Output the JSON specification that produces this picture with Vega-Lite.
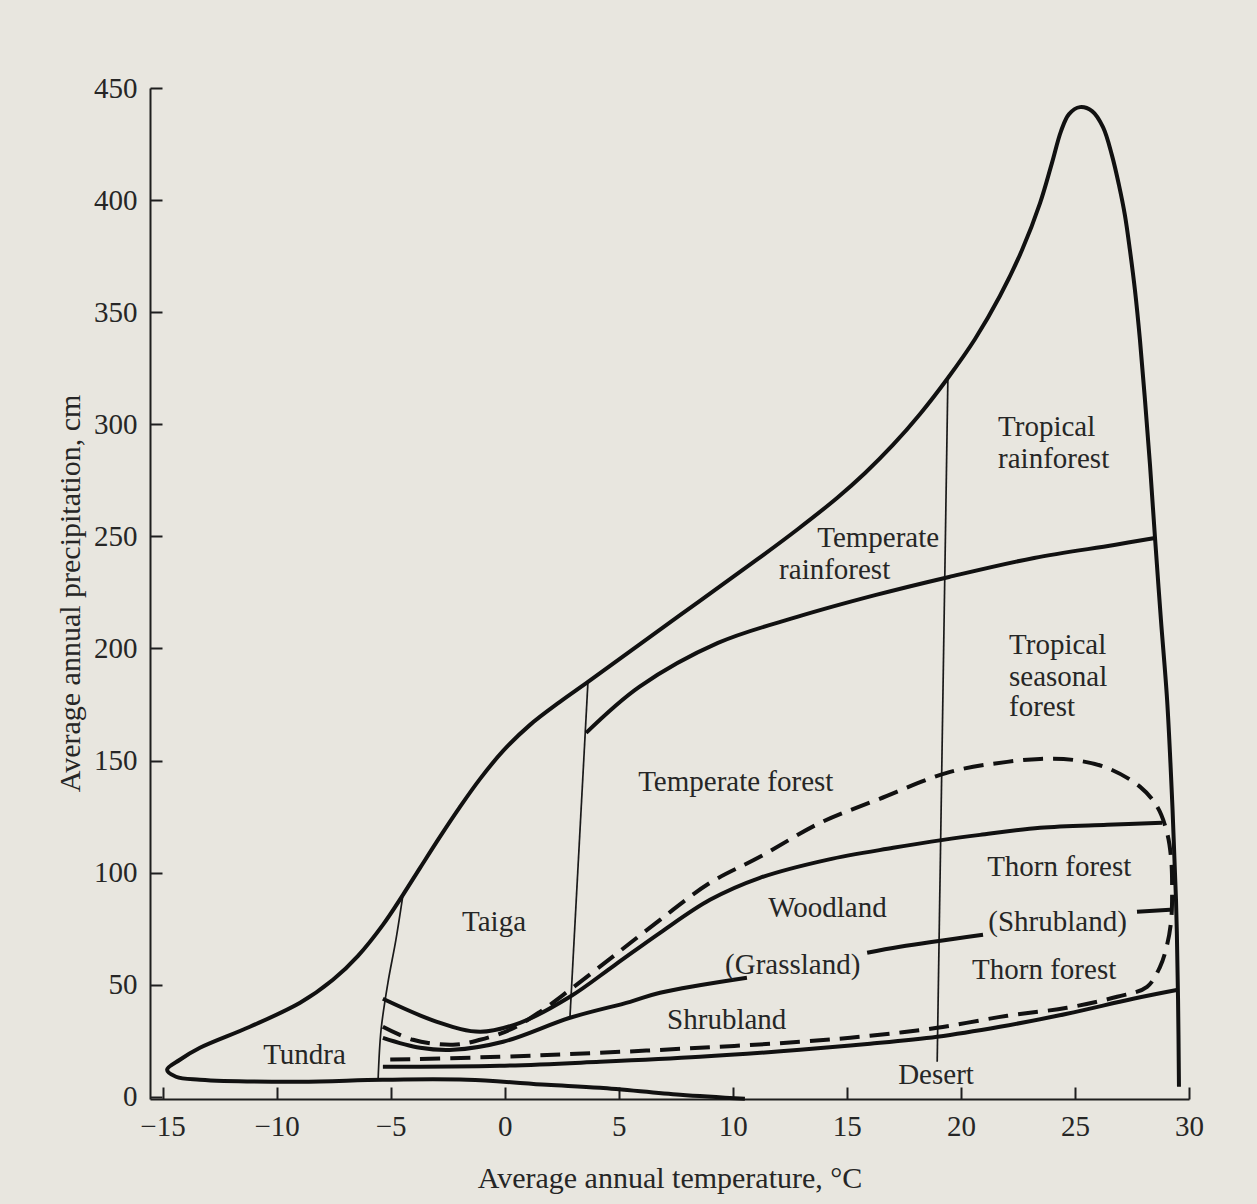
{
  "$schema": "https://vega.github.io/schema/vega-lite/v6.json",
  "width": 1039,
  "height": 1011,
  "autosize": {"type": "none"},
  "padding": {"left": 150, "top": 88, "right": 68, "bottom": 105},
  "background": "#e8e6df",
  "config": {"view": {"stroke": null}, "font": "Liberation Serif"},
  "datasets": {
    "curves": [
      {"id":"outer","k":"thick","i":1,"T":29.56,"P":4.46},
      {"id":"outer","k":"thick","i":2,"T":29.52,"P":43.26},
      {"id":"outer","k":"thick","i":3,"T":29.43,"P":87.85},
      {"id":"outer","k":"thick","i":4,"T":29.26,"P":132.44},
      {"id":"outer","k":"thick","i":5,"T":29.04,"P":177.03},
      {"id":"outer","k":"thick","i":6,"T":28.77,"P":212.71},
      {"id":"outer","k":"thick","i":7,"T":28.51,"P":249.28},
      {"id":"outer","k":"thick","i":8,"T":28.29,"P":281.83},
      {"id":"outer","k":"thick","i":9,"T":28.07,"P":310.81},
      {"id":"outer","k":"thick","i":10,"T":27.85,"P":337.57},
      {"id":"outer","k":"thick","i":11,"T":27.63,"P":359.87},
      {"id":"outer","k":"thick","i":12,"T":27.41,"P":377.7},
      {"id":"outer","k":"thick","i":13,"T":27.19,"P":393.31},
      {"id":"outer","k":"thick","i":14,"T":26.93,"P":406.69},
      {"id":"outer","k":"thick","i":15,"T":26.62,"P":420.07},
      {"id":"outer","k":"thick","i":16,"T":26.23,"P":432.55},
      {"id":"outer","k":"thick","i":17,"T":25.75,"P":439.69},
      {"id":"outer","k":"thick","i":18,"T":25.22,"P":441.47},
      {"id":"outer","k":"thick","i":19,"T":24.74,"P":438.35},
      {"id":"outer","k":"thick","i":20,"T":24.39,"P":430.77},
      {"id":"outer","k":"thick","i":21,"T":23.99,"P":416.5},
      {"id":"outer","k":"thick","i":22,"T":23.47,"P":398.66},
      {"id":"outer","k":"thick","i":23,"T":22.68,"P":377.7},
      {"id":"outer","k":"thick","i":24,"T":21.71,"P":357.19},
      {"id":"outer","k":"thick","i":25,"T":20.62,"P":338.02},
      {"id":"outer","k":"thick","i":26,"T":19.43,"P":320.62},
      {"id":"outer","k":"thick","i":27,"T":18.21,"P":304.57},
      {"id":"outer","k":"thick","i":28,"T":17.02,"P":290.75},
      {"id":"outer","k":"thick","i":29,"T":15.8,"P":278.26},
      {"id":"outer","k":"thick","i":30,"T":14.57,"P":267.11},
      {"id":"outer","k":"thick","i":31,"T":12.86,"P":253.29},
      {"id":"outer","k":"thick","i":32,"T":11.1,"P":239.91},
      {"id":"outer","k":"thick","i":33,"T":7.64,"P":214.49},
      {"id":"outer","k":"thick","i":34,"T":3.65,"P":185.06},
      {"id":"outer","k":"thick","i":35,"T":2.42,"P":176.14},
      {"id":"outer","k":"thick","i":36,"T":1.11,"P":165.89},
      {"id":"outer","k":"thick","i":37,"T":-0.07,"P":154.29},
      {"id":"outer","k":"thick","i":38,"T":-1.08,"P":141.81},
      {"id":"outer","k":"thick","i":39,"T":-1.96,"P":129.32},
      {"id":"outer","k":"thick","i":40,"T":-2.84,"P":115.94},
      {"id":"outer","k":"thick","i":41,"T":-3.71,"P":102.12},
      {"id":"outer","k":"thick","i":42,"T":-4.46,"P":90.08},
      {"id":"outer","k":"thick","i":43,"T":-5.34,"P":76.7},
      {"id":"outer","k":"thick","i":44,"T":-6.43,"P":62.88},
      {"id":"outer","k":"thick","i":45,"T":-7.53,"P":52.17},
      {"id":"outer","k":"thick","i":46,"T":-8.97,"P":41.92},
      {"id":"outer","k":"thick","i":47,"T":-11.17,"P":31.22},
      {"id":"outer","k":"thick","i":48,"T":-13.36,"P":21.85},
      {"id":"outer","k":"thick","i":49,"T":-14.24,"P":16.5},
      {"id":"outer","k":"thick","i":50,"T":-14.8,"P":12.04},
      {"id":"outer","k":"thick","i":51,"T":-14.41,"P":8.92},
      {"id":"outer","k":"thick","i":52,"T":-13.36,"P":7.58},
      {"id":"outer","k":"thick","i":53,"T":-8.97,"P":6.69},
      {"id":"outer","k":"thick","i":54,"T":-5.34,"P":7.58},
      {"id":"outer","k":"thick","i":55,"T":-1.65,"P":7.58},
      {"id":"outer","k":"thick","i":56,"T":1.85,"P":5.35},
      {"id":"outer","k":"thick","i":57,"T":4.18,"P":4.01},
      {"id":"outer","k":"thick","i":58,"T":7.69,"P":0.89},
      {"id":"outer","k":"thick","i":59,"T":10.53,"P":-0.89},

      {"id":"trf","k":"thick","i":1,"T":3.57,"P":162.32},
      {"id":"trf","k":"thick","i":2,"T":5.9,"P":182.83},
      {"id":"trf","k":"thick","i":3,"T":9.35,"P":202.45},
      {"id":"trf","k":"thick","i":4,"T":12.82,"P":214.05},
      {"id":"trf","k":"thick","i":5,"T":16.28,"P":223.86},
      {"id":"trf","k":"thick","i":6,"T":19.48,"P":231.88},
      {"id":"trf","k":"thick","i":7,"T":23.21,"P":240.36},
      {"id":"trf","k":"thick","i":8,"T":26.72,"P":246.15},
      {"id":"trf","k":"thick","i":9,"T":28.51,"P":249.28},

      {"id":"L1","k":"thick","i":1,"T":-5.34,"P":43.7},
      {"id":"L1","k":"thick","i":2,"T":-2.97,"P":33.44},
      {"id":"L1","k":"thick","i":3,"T":-1.08,"P":28.99},
      {"id":"L1","k":"thick","i":4,"T":0.67,"P":33.0},
      {"id":"L1","k":"thick","i":5,"T":2.86,"P":44.59},
      {"id":"L1","k":"thick","i":6,"T":4.84,"P":58.86},
      {"id":"L1","k":"thick","i":7,"T":6.81,"P":73.13},
      {"id":"L1","k":"thick","i":8,"T":9.0,"P":87.85},
      {"id":"L1","k":"thick","i":9,"T":11.19,"P":97.66},
      {"id":"L1","k":"thick","i":10,"T":14.13,"P":105.69},
      {"id":"L1","k":"thick","i":11,"T":17.03,"P":111.04},
      {"id":"L1","k":"thick","i":12,"T":19.22,"P":114.6},
      {"id":"L1","k":"thick","i":13,"T":20.84,"P":116.83},
      {"id":"L1","k":"thick","i":14,"T":23.47,"P":119.96},
      {"id":"L1","k":"thick","i":15,"T":26.41,"P":121.29},
      {"id":"L1","k":"thick","i":16,"T":28.82,"P":122.18},

      {"id":"L3a","k":"thick","i":1,"T":-5.34,"P":26.31},
      {"id":"L3a","k":"thick","i":2,"T":-3.71,"P":21.85},
      {"id":"L3a","k":"thick","i":3,"T":-2.27,"P":20.96},
      {"id":"L3a","k":"thick","i":4,"T":-0.07,"P":24.53},
      {"id":"L3a","k":"thick","i":5,"T":2.86,"P":35.23},
      {"id":"L3a","k":"thick","i":6,"T":5.5,"P":42.36},
      {"id":"L3a","k":"thick","i":7,"T":6.81,"P":46.38},
      {"id":"L3a","k":"thick","i":8,"T":10.62,"P":53.07},
      {"id":"L3b","k":"thick","i":1,"T":15.89,"P":64.21},
      {"id":"L3b","k":"thick","i":2,"T":17.33,"P":66.89},
      {"id":"L3b","k":"thick","i":3,"T":20.97,"P":72.24},
      {"id":"L3c","k":"thick","i":1,"T":27.72,"P":82.5},
      {"id":"L3c","k":"thick","i":2,"T":29.17,"P":83.39},

      {"id":"L4","k":"thick","i":1,"T":-5.34,"P":13.38},
      {"id":"L4","k":"thick","i":2,"T":-0.21,"P":13.82},
      {"id":"L4","k":"thick","i":3,"T":4.18,"P":15.61},
      {"id":"L4","k":"thick","i":4,"T":8.56,"P":17.84},
      {"id":"L4","k":"thick","i":5,"T":12.95,"P":20.96},
      {"id":"L4","k":"thick","i":6,"T":16.02,"P":23.63},
      {"id":"L4","k":"thick","i":7,"T":18.96,"P":26.76},
      {"id":"L4","k":"thick","i":8,"T":21.71,"P":31.22},
      {"id":"L4","k":"thick","i":9,"T":24.65,"P":37.01},
      {"id":"L4","k":"thick","i":10,"T":27.55,"P":43.7},
      {"id":"L4","k":"thick","i":11,"T":29.52,"P":47.71},

      {"id":"dash","k":"dash","i":1,"T":-5.34,"P":31.22},
      {"id":"dash","k":"dash","i":2,"T":-4.02,"P":25.42},
      {"id":"dash","k":"dash","i":3,"T":-2.27,"P":23.19},
      {"id":"dash","k":"dash","i":4,"T":-1.08,"P":25.42},
      {"id":"dash","k":"dash","i":5,"T":0.23,"P":29.88},
      {"id":"dash","k":"dash","i":6,"T":1.55,"P":37.9},
      {"id":"dash","k":"dash","i":7,"T":2.86,"P":47.71},
      {"id":"dash","k":"dash","i":8,"T":4.84,"P":63.32},
      {"id":"dash","k":"dash","i":9,"T":6.81,"P":78.93},
      {"id":"dash","k":"dash","i":10,"T":9.0,"P":95.43},
      {"id":"dash","k":"dash","i":11,"T":11.19,"P":107.02},
      {"id":"dash","k":"dash","i":12,"T":13.83,"P":122.18},
      {"id":"dash","k":"dash","i":13,"T":16.32,"P":132.44},
      {"id":"dash","k":"dash","i":14,"T":19.53,"P":144.93},
      {"id":"dash","k":"dash","i":15,"T":22.03,"P":149.39},
      {"id":"dash","k":"dash","i":16,"T":23.47,"P":150.72},
      {"id":"dash","k":"dash","i":17,"T":24.92,"P":150.28},
      {"id":"dash","k":"dash","i":18,"T":26.41,"P":146.71},
      {"id":"dash","k":"dash","i":19,"T":27.86,"P":138.24},
      {"id":"dash","k":"dash","i":20,"T":28.61,"P":129.32},
      {"id":"dash","k":"dash","i":21,"T":29.04,"P":117.73},
      {"id":"dash","k":"dash","i":22,"T":29.22,"P":105.69},
      {"id":"dash","k":"dash","i":23,"T":29.26,"P":92.31},
      {"id":"dash","k":"dash","i":24,"T":29.22,"P":78.93},
      {"id":"dash","k":"dash","i":25,"T":29.04,"P":67.78},
      {"id":"dash","k":"dash","i":26,"T":28.73,"P":57.97},
      {"id":"dash","k":"dash","i":27,"T":28.16,"P":49.05},
      {"id":"dash","k":"dash","i":28,"T":26.85,"P":44.59},
      {"id":"dash","k":"dash","i":29,"T":24.65,"P":39.69},
      {"id":"dash","k":"dash","i":30,"T":22.03,"P":36.12},
      {"id":"dash","k":"dash","i":31,"T":18.96,"P":30.77},
      {"id":"dash","k":"dash","i":32,"T":16.02,"P":27.2},
      {"id":"dash","k":"dash","i":33,"T":12.95,"P":24.53},
      {"id":"dash","k":"dash","i":34,"T":8.56,"P":21.85},
      {"id":"dash","k":"dash","i":35,"T":4.18,"P":19.62},
      {"id":"dash","k":"dash","i":36,"T":-0.21,"P":17.84},
      {"id":"dash","k":"dash","i":37,"T":-5.34,"P":16.5},

      {"id":"tt","k":"thin","i":1,"T":-4.46,"P":90.08},
      {"id":"tt","k":"thin","i":2,"T":-4.77,"P":70.01},
      {"id":"tt","k":"thin","i":3,"T":-5.12,"P":50.84},
      {"id":"tt","k":"thin","i":4,"T":-5.42,"P":29.88},
      {"id":"tt","k":"thin","i":5,"T":-5.55,"P":7.58},
      {"id":"tf","k":"thin","i":1,"T":3.65,"P":185.06},
      {"id":"tf","k":"thin","i":2,"T":2.86,"P":35.23},
      {"id":"de","k":"thin","i":1,"T":19.43,"P":320.62},
      {"id":"de","k":"thin","i":2,"T":18.96,"P":15.61}
    ],
    "labels": [
      {"label":"Tropical","T":21.63,"P":298.77},
      {"label":"rainforest","T":21.63,"P":284.5},
      {"label":"Temperate","T":13.7,"P":249.28},
      {"label":"rainforest","T":12.03,"P":235.0},
      {"label":"Tropical","T":22.11,"P":201.56},
      {"label":"seasonal","T":22.11,"P":187.29},
      {"label":"forest","T":22.11,"P":173.91},
      {"label":"Temperate forest","T":5.85,"P":140.47},
      {"label":"Thorn forest","T":21.15,"P":102.56},
      {"label":"(Shrubland)","T":21.2,"P":78.04},
      {"label":"Thorn forest","T":20.49,"P":56.63},
      {"label":"Woodland","T":11.55,"P":84.28},
      {"label":"(Grassland)","T":9.66,"P":58.86},
      {"label":"Shrubland","T":7.12,"P":34.34},
      {"label":"Desert","T":17.25,"P":9.81},
      {"label":"Taiga","T":-1.87,"P":78.04},
      {"label":"Tundra","T":-10.59,"P":18.73}
    ]
  },
  "encoding": {
    "x": {
      "field": "T", "type": "quantitative",
      "scale": {"domain": [-15.55, 30], "nice": false, "zero": false},
      "axis": {
        "values": [-15, -10, -5, 0, 5, 10, 15, 20, 25, 30],
        "title": "Average annual temperature, °C",
        "grid": false,
        "domainColor": "#1e1e1e", "domainWidth": 2,
        "tickColor": "#1e1e1e", "tickWidth": 2, "tickSize": -12,
        "labelPadding": 25, "labelFlush": false, "labelOverlap": false,
        "labelFont": "Liberation Serif", "labelFontSize": 29, "labelColor": "#262626",
        "titleFont": "Liberation Serif", "titleFontSize": 30, "titleFontWeight": "normal", "titleColor": "#262626",
        "titleY": 79, "titleBaseline": "middle"
      }
    },
    "y": {
      "field": "P", "type": "quantitative",
      "scale": {"domain": [-1, 450], "nice": false, "zero": false},
      "axis": {
        "values": [0, 50, 100, 150, 200, 250, 300, 350, 400, 450],
        "title": "Average annual precipitation, cm",
        "grid": false,
        "domainColor": "#1e1e1e", "domainWidth": 2,
        "tickColor": "#1e1e1e", "tickWidth": 2, "tickSize": -12,
        "labelPadding": 25, "labelFlush": false, "labelOverlap": false,
        "labelFont": "Liberation Serif", "labelFontSize": 29, "labelColor": "#262626",
        "titleFont": "Liberation Serif", "titleFontSize": 30, "titleFontWeight": "normal", "titleColor": "#262626",
        "titleX": -80, "titleY": 505, "titleBaseline": "middle"
      }
    }
  },
  "layer": [
    {
      "data": {"name": "curves"},
      "transform": [{"filter": "datum.k === 'thin'"}],
      "mark": {"type": "line", "interpolate": "catmull-rom", "strokeWidth": 1.7, "color": "#1a1a1a"},
      "encoding": {"detail": {"field": "id"}, "order": {"field": "i", "type": "quantitative"}}
    },
    {
      "data": {"name": "curves"},
      "transform": [{"filter": "datum.k === 'dash'"}],
      "mark": {"type": "line", "interpolate": "catmull-rom", "strokeWidth": 4, "strokeDash": [20, 10], "color": "#111111"},
      "encoding": {"detail": {"field": "id"}, "order": {"field": "i", "type": "quantitative"}}
    },
    {
      "data": {"name": "curves"},
      "transform": [{"filter": "datum.k === 'thick'"}],
      "mark": {"type": "line", "interpolate": "catmull-rom", "strokeWidth": 4, "strokeJoin": "round", "color": "#111111"},
      "encoding": {"detail": {"field": "id"}, "order": {"field": "i", "type": "quantitative"}}
    },
    {
      "data": {"name": "labels"},
      "mark": {"type": "text", "align": "left", "baseline": "middle", "font": "Liberation Serif", "fontSize": 29, "color": "#262626"},
      "encoding": {"text": {"field": "label", "type": "nominal"}}
    }
  ]
}
